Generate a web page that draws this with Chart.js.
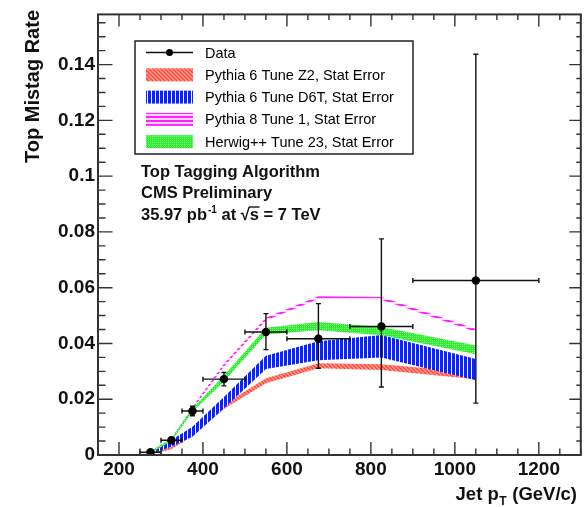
<!DOCTYPE html>
<html>
<head>
<meta charset="utf-8">
<script src="https://cdn.jsdelivr.net/npm/chart.js@4.4.0/dist/chart.umd.min.js"></script>
<style>
  html, body { margin: 0; padding: 0; background: #fff; }
  canvas { display: block; }
</style>
</head>
<body>
<canvas id="myChart" width="585" height="507"></canvas>
<script>
// jet pT bins (GeV/c)
var binCenters = [275, 325, 375, 450, 550, 675, 825, 1050];
var binLow = [250, 300, 350, 400, 500, 600, 750, 900];
var binHigh = [300, 350, 400, 500, 600, 750, 900, 1200];

// data points with asymmetric errors
var dataRate = [0.001, 0.0053, 0.0158, 0.0272, 0.0441, 0.0417, 0.0461, 0.0626];
var dataErrUp = [0.0006, 0.001, 0.0017, 0.0024, 0.0066, 0.0126, 0.0314, 0.0811];
var dataErrDown = [0.0006, 0.001, 0.0017, 0.0024, 0.0063, 0.0106, 0.0217, 0.044];

// MC predictions: centre and stat error
var z2Rate = [0.0005, 0.0025, 0.0075, 0.0173, 0.0266, 0.032, 0.0315, 0.0284];
var z2Err = [0.0003, 0.0004, 0.0006, 0.0008, 0.0009, 0.0009, 0.001, 0.0012];
var d6tRate = [0.0008, 0.0042, 0.0083, 0.0188, 0.0332, 0.0374, 0.039, 0.0306];
var d6tErr = [0.0005, 0.0012, 0.0018, 0.002, 0.0024, 0.0034, 0.004, 0.0038];
var p8Rate = [0.001, 0.0055, 0.0167, 0.0322, 0.0487, 0.0564, 0.0562, 0.0447];
var p8Err = [0.0003, 0.0004, 0.0005, 0.0005, 0.0005, 0.0005, 0.0005, 0.0005];
var herwigRate = [0.001, 0.0054, 0.0161, 0.0274, 0.0444, 0.0462, 0.0444, 0.0377];
var herwigErr = [0.0003, 0.0005, 0.0007, 0.001, 0.0012, 0.0015, 0.0015, 0.0016];

var xTicks = [200, 400, 600, 800, 1000, 1200];
var yTicks = [0, 0.02, 0.04, 0.06, 0.08, 0.1, 0.12, 0.14];
var yTickLabels = ['0', '0.02', '0.04', '0.06', '0.08', '0.1', '0.12', '0.14'];

var FONT = '"Liberation Sans", Arial, Helvetica, sans-serif';

// hatch patterns, ROOT style
function makePattern(kind) {
    var c = document.createElement('canvas');
    var g = c.getContext('2d');
    if (kind === 'red') {
        c.width = 4; c.height = 4;
        g.fillStyle = '#ffa196';
        g.fillRect(0, 0, 4, 4);
        g.strokeStyle = '#ff4636';
        g.lineWidth = 1.4;
        g.beginPath();
        g.moveTo(-1, -1); g.lineTo(5, 5);
        g.moveTo(-1, 3); g.lineTo(1, 5);
        g.moveTo(3, -1); g.lineTo(5, 1);
        g.stroke();
    } else if (kind === 'blue') {
        c.width = 4; c.height = 1;
        g.fillStyle = '#ffffff';
        g.fillRect(0, 0, 4, 1);
        g.fillStyle = '#0a22ff';
        g.fillRect(0, 0, 3, 1);
    } else if (kind === 'pink') {
        c.width = 1; c.height = 4;
        g.fillStyle = '#ffd6ff';
        g.fillRect(0, 0, 1, 4);
        g.fillStyle = '#ff22ff';
        g.fillRect(0, 0, 1, 2);
    } else {
        c.width = 2; c.height = 2;
        g.fillStyle = '#2af22a';
        g.fillRect(0, 0, 2, 2);
        g.fillStyle = '#8cff8c';
        g.fillRect(0, 0, 1, 1);
    }
    return g.createPattern(c, 'repeat');
}

var redFill = makePattern('red');
var blueFill = makePattern('blue');
var pinkFill = makePattern('pink');
var greenFill = makePattern('green');

function edge(rate, err, sign) {
    return binCenters.map(function (x, i) { return { x: x, y: rate[i] + sign * err[i] }; });
}

function band(label, rate, err, fill) {
    return [{
        label: label + ' up',
        data: edge(rate, err, 1),
        borderWidth: 0,
        pointRadius: 0,
        fill: false,
        tension: 0
    }, {
        label: label,
        data: edge(rate, err, -1),
        borderWidth: 0,
        pointRadius: 0,
        backgroundColor: fill,
        fill: '-1',
        tension: 0
    }];
}

var legendItems = [
    { label: 'Data', fill: null },
    { label: 'Pythia 6 Tune Z2, Stat Error', fill: redFill },
    { label: 'Pythia 6 Tune D6T, Stat Error', fill: blueFill },
    { label: 'Pythia 8 Tune 1, Stat Error', fill: pinkFill },
    { label: 'Herwig++ Tune 23, Stat Error', fill: greenFill }
];

// index 0 is drawn last (on top)
var datasets = [{
    label: 'Data',
    data: binCenters.map(function (x, i) { return { x: x, y: dataRate[i] }; }),
    showLine: false,
    pointRadius: 4.2,
    pointBackgroundColor: '#000',
    pointBorderColor: '#000',
    pointBorderWidth: 0
}]
    .concat(band(legendItems[4].label, herwigRate, herwigErr, greenFill))
    .concat(band(legendItems[3].label, p8Rate, p8Err, pinkFill))
    .concat(band(legendItems[2].label, d6tRate, d6tErr, blueFill))
    .concat(band(legendItems[1].label, z2Rate, z2Err, redFill));

// error bars for the data, drawn right before the markers
var errorBars = {
    id: 'errorBars',
    beforeDatasetDraw: function (chart, args) {
        if (args.index !== 0) return;
        var ctx = chart.ctx, xs = chart.scales.x, ys = chart.scales.y;
        ctx.save();
        ctx.strokeStyle = '#111';
        ctx.lineWidth = 1.4;
        ctx.beginPath();
        for (var i = 0; i < binCenters.length; i++) {
            var px = xs.getPixelForValue(binCenters[i]);
            var py = ys.getPixelForValue(dataRate[i]);
            var x0 = xs.getPixelForValue(binLow[i]), x1 = xs.getPixelForValue(binHigh[i]);
            var y0 = ys.getPixelForValue(dataRate[i] - dataErrDown[i]);
            var y1 = ys.getPixelForValue(dataRate[i] + dataErrUp[i]);
            ctx.moveTo(x0, py); ctx.lineTo(x1, py);
            ctx.moveTo(x0, py - 2.5); ctx.lineTo(x0, py + 2.5);
            ctx.moveTo(x1, py - 2.5); ctx.lineTo(x1, py + 2.5);
            ctx.moveTo(px, y0); ctx.lineTo(px, y1);
            ctx.moveTo(px - 2.5, y0); ctx.lineTo(px + 2.5, y0);
            ctx.moveTo(px - 2.5, y1); ctx.lineTo(px + 2.5, y1);
        }
        ctx.stroke();
        ctx.restore();
    }
};

// frame, inward ticks, legend and texts
var rootStyle = {
    id: 'rootStyle',
    afterDraw: function (chart) {
        var ctx = chart.ctx, a = chart.chartArea, xs = chart.scales.x, ys = chart.scales.y;
        ctx.save();

        ctx.strokeStyle = '#333';
        ctx.lineWidth = 1.4;
        ctx.beginPath();
        var v, p, big;
        for (v = 150; v <= 1300; v += 50) {
            p = xs.getPixelForValue(v);
            big = v % 200 === 0 ? 13 : 6.5;
            ctx.moveTo(p, a.bottom); ctx.lineTo(p, a.bottom - big);
            ctx.moveTo(p, a.top); ctx.lineTo(p, a.top + big - 1);
        }
        for (var k = 0; k <= 31; k++) {
            v = k * 0.005;
            p = ys.getPixelForValue(v);
            big = k % 4 === 0 ? 14.5 : 7.5;
            ctx.moveTo(a.left, p); ctx.lineTo(a.left + big, p);
            ctx.moveTo(a.right, p); ctx.lineTo(a.right - big + 3, p);
        }
        ctx.stroke();

        ctx.lineWidth = 2;
        ctx.strokeRect(a.left, a.top, a.right - a.left, a.bottom - a.top);

        // legend
        ctx.lineWidth = 1.5;
        ctx.strokeStyle = '#222';
        ctx.fillStyle = '#fff';
        ctx.fillRect(135, 41, 278, 113);
        ctx.strokeRect(135, 41, 278, 113);
        ctx.font = '14.5px ' + FONT;
        ctx.textBaseline = 'middle';
        legendItems.forEach(function (item, i) {
            var ry = 52.5 + i * 22.3;
            if (item.fill) {
                ctx.fillStyle = item.fill;
                ctx.fillRect(146, ry - 6.5, 47, 13);
            } else {
                ctx.strokeStyle = '#111';
                ctx.lineWidth = 1.4;
                ctx.beginPath();
                ctx.moveTo(146, ry); ctx.lineTo(193, ry);
                ctx.stroke();
                ctx.fillStyle = '#000';
                ctx.beginPath();
                ctx.arc(169.5, ry, 3.5, 0, Math.PI * 2);
                ctx.fill();
            }
            ctx.fillStyle = '#000';
            ctx.fillText(item.label, 205, ry + 1);
        });

        // info text
        ctx.textBaseline = 'alphabetic';
        ctx.fillStyle = '#111';
        var bold = 'bold 16.5px ' + FONT;
        ctx.font = bold;
        ctx.fillText('Top Tagging Algorithm', 141, 176.5);
        ctx.fillText('CMS Preliminary', 141, 198);
        var x = 141, y = 219.5;
        ctx.fillText('35.97 pb', x, y);
        x += ctx.measureText('35.97 pb').width;
        ctx.font = 'bold 10px ' + FONT;
        ctx.fillText('-1', x + 1, y - 7);
        x += ctx.measureText('-1').width + 1;
        ctx.font = bold;
        ctx.fillText(' at ', x, y);
        x += ctx.measureText(' at ').width;
        ctx.fillText('\u221A', x, y);
        x += ctx.measureText('\u221A').width;
        var sw = ctx.measureText('s').width;
        ctx.fillText('s', x, y);
        ctx.strokeStyle = '#111';
        ctx.lineWidth = 1.4;
        ctx.beginPath();
        ctx.moveTo(x - 1, y - 12.5); ctx.lineTo(x + sw + 0.5, y - 12.5);
        ctx.stroke();
        x += sw;
        ctx.fillText(' = 7 TeV', x, y);

        // axis titles
        var t1 = 'Jet p', t2 = ' (GeV/c)';
        ctx.font = 'bold 12px ' + FONT;
        var wT = ctx.measureText('T').width;
        ctx.font = 'bold 18.5px ' + FONT;
        var w1 = ctx.measureText(t1).width, w2 = ctx.measureText(t2).width;
        var xr = 577 - w2;
        ctx.fillText(t2, xr, 500);
        ctx.fillText(t1, xr - wT - 1 - w1, 500);
        ctx.font = 'bold 12px ' + FONT;
        ctx.fillText('T', xr - wT - 0.5, 505);

        ctx.translate(38.5, 10);
        ctx.rotate(-Math.PI / 2);
        ctx.font = 'bold 20px ' + FONT;
        ctx.textAlign = 'right';
        ctx.fillText('Top Mistag Rate', 0, 0);

        ctx.restore();
    }
};

var ctx = document.getElementById('myChart');
var myChart = new Chart(ctx, {
    type: 'line',
    data: { datasets: datasets },
    options: {
        responsive: false,
        animation: false,
        events: [],
        layout: { padding: { left: 0, right: 4, top: 14, bottom: 0 } },
        plugins: {
            legend: { display: false },
            tooltip: { enabled: false }
        },
        scales: {
            x: {
                type: 'linear',
                min: 150,
                max: 1300,
                grid: { display: false, drawTicks: false },
                border: { display: false },
                afterBuildTicks: function (scale) {
                    scale.ticks = xTicks.map(function (v) { return { value: v }; });
                },
                afterFit: function (scale) { scale.height = 52; },
                ticks: {
                    padding: 3,
                    color: '#111',
                    maxRotation: 0,
                    autoSkip: false,
                    font: { family: FONT, size: 19, weight: 'bold' },
                    callback: function (v) { return String(v); }
                }
            },
            y: {
                type: 'linear',
                min: 0,
                max: 0.158,
                grid: { display: false, drawTicks: false },
                border: { display: false },
                afterBuildTicks: function (scale) {
                    scale.ticks = yTicks.map(function (v) { return { value: v }; });
                },
                afterFit: function (scale) { scale.width = 98; },
                ticks: {
                    padding: 3,
                    color: '#111',
                    autoSkip: false,
                    font: { family: FONT, size: 19, weight: 'bold' },
                    callback: function (v, i) { return yTickLabels[i]; }
                }
            }
        }
    },
    plugins: [errorBars, rootStyle]
});
</script>
</body>
</html>
